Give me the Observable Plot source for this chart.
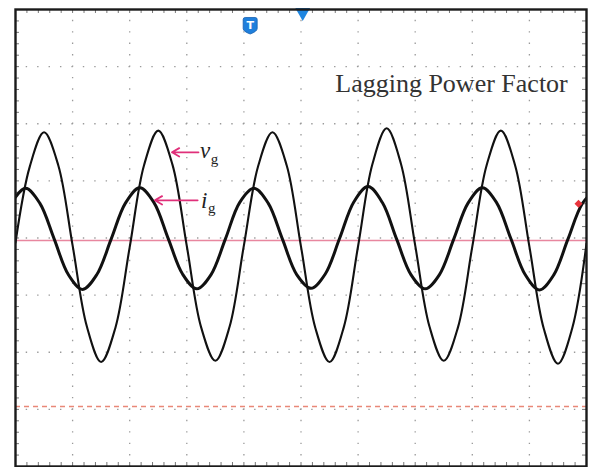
<!DOCTYPE html>
<html><head><meta charset="utf-8">
<script src="https://cdn.jsdelivr.net/npm/d3@7"></script>
<script src="https://cdn.jsdelivr.net/npm/@observablehq/plot@0.6"></script>
<style>html,body{margin:0;padding:0;background:#fff;} svg{display:block}</style>
</head><body><div id="chart"></div>
<script>
// Time in ms (10 ms/div), amplitudes in divisions
const voltTime = [0,2.5,5,7.5,10,12.5,15,17.5,20,22.5,25,27.5,30,32.5,35,37.5,40,42.5,45,47.5,50,52.5,55,57.5,60,62.5,65,67.5,70,72.5,75,77.5,80,82.5,85,87.5,90,92.5,95,97.5,100];
const voltValue = [-0.08,1.25,1.85,1.27,-0.13,-1.55,-2.17,-1.57,-0.16,1.27,1.88,1.28,-0.14,-1.56,-2.15,-1.55,-0.13,1.26,1.85,1.27,-0.15,-1.57,-2.17,-1.56,-0.14,1.29,1.92,1.30,-0.13,-1.55,-2.15,-1.56,-0.15,1.27,1.88,1.27,-0.15,-1.58,-2.20,-1.58,-0.10];
const currTime = [-0.75,1.75,4.25,6.75,9.25,11.75,14.25,16.75,19.25,21.75,24.25,26.75,29.25,31.75,34.25,36.75,39.25,41.75,44.25,46.75,49.25,51.75,54.25,56.75,59.25,61.75,64.25,66.75,69.25,71.75,74.25,76.75,79.25,81.75,84.25,86.75,89.25,91.75,94.25,96.75,99.25,101.75];
const currValue = [0.61,0.87,0.61,-0.01,-0.64,-0.90,-0.64,-0.02,0.61,0.88,0.62,-0.01,-0.63,-0.89,-0.64,-0.02,0.62,0.87,0.61,-0.02,-0.64,-0.88,-0.63,-0.01,0.63,0.90,0.62,-0.02,-0.64,-0.89,-0.64,-0.02,0.61,0.88,0.62,-0.01,-0.64,-0.91,-0.65,-0.02,0.60,0.87];
const refLevels = [-0.044];      // channel ground level (solid)
const trigLevels = [-2.95];      // dashed level
const titleText = ["Lagging Power Factor"];
const traceNames = ["v", "i"];
const traceSubs = ["g", "g"];

const volt = voltTime.map((t, i) => ({t, v: voltValue[i]}));
const curr = currTime.map((t, i) => ({t, v: currValue[i]}));

// grid geometry
const majorX = d3.range(10, 100, 10);
const majorY = d3.range(-3, 4, 1);
const minorX = d3.range(2, 100, 2);
const minorY = d3.range(-3.8, 4, 0.2);

// annotation placement
const arrows = [
  {x1: 32.05, y1: 1.50, x2: 27.4, y2: 1.50},
  {x1: 31.9, y1: 0.66, x2: 24.4, y2: 0.66}
];
const labels = [
  {x: 32.3, y: 1.40, sx: 34.2, sy: 1.29, name: traceNames[0], sub: traceSubs[0]},
  {x: 32.5, y: 0.53, sx: 33.7, sy: 0.44, name: traceNames[1], sub: traceSubs[1]}
];

const shield = {
  draw(ctx, size) {
    ctx.moveTo(-7, -6);
    ctx.quadraticCurveTo(-7, -8, -5, -8);
    ctx.lineTo(5, -8);
    ctx.quadraticCurveTo(7, -8, 7, -6);
    ctx.lineTo(7, 3);
    ctx.quadraticCurveTo(7, 6, 0, 8.5);
    ctx.quadraticCurveTo(-7, 6, -7, 3);
    ctx.closePath();
  }
};

const chart = Plot.plot({
  width: 590,
  height: 467,
  marginLeft: 15,
  marginRight: 4,
  marginTop: 9,
  marginBottom: 1,
  x: {domain: [0, 100], axis: null},
  y: {domain: [-4, 4], axis: null},
  style: {background: "#fff"},
  marks: [
    // dotted graticule
    Plot.ruleX(majorX, {stroke: "#9a9a9a", strokeWidth: 1.3, strokeDasharray: "1.4,10.03", strokeDashoffset: 0.7}),
    Plot.ruleY(majorY, {stroke: "#9a9a9a", strokeWidth: 1.3, strokeDasharray: "1.4,10.02", strokeDashoffset: 0.7}),
    // border minor ticks
    Plot.ruleX(minorX, {y1: 4, y2: 3.93, stroke: "#777", strokeWidth: 1}),
    Plot.ruleX(minorX, {y1: -4, y2: -3.93, stroke: "#777", strokeWidth: 1}),
    Plot.ruleY(minorY, {x1: 0, x2: 0.7, stroke: "#777", strokeWidth: 1}),
    Plot.ruleY(minorY, {x1: 100, x2: 99.3, stroke: "#777", strokeWidth: 1}),
    // reference levels
    Plot.ruleY(refLevels, {stroke: "#e8879f", strokeWidth: 1.6}),
    Plot.ruleY(trigLevels, {stroke: "#e98878", strokeWidth: 1.6, strokeDasharray: "5,4"}),
    // traces
    Plot.line(curr, {x: "t", y: "v", curve: "catmull-rom", stroke: "#111", strokeWidth: 3, clip: true}),
    Plot.line(volt, {x: "t", y: "v", curve: "catmull-rom", stroke: "#111", strokeWidth: 2.1, clip: true}),
    // markers
    Plot.dot([{x: 98.6, y: 0.60}], {x: "x", y: "y", symbol: "square", rotate: 45, r: 3.2, fill: "#e8343c"}),
    Plot.dot([{x: 50.3, y: 3.95}], {x: "x", y: "y", symbol: "triangle", rotate: 180, r: 5.5, fill: "#1f86e0"}),
    Plot.frame({stroke: "#1a1a1a", strokeWidth: 2.4}),
    Plot.dot([{x: 41.1, y: 3.72}], {x: "x", y: "y", symbol: shield, fill: "#1f7fdc", stroke: "#1560b0", strokeWidth: 0.8}),
    Plot.text(["T"], {x: 41.1, y: 3.72, fill: "#fff", fontWeight: "bold", fontSize: 11, fontFamily: "DejaVu Sans", dy: 0}),
    // annotations
    Plot.text(titleText, {x: 56.0, y: 2.55, text: d => d, textAnchor: "start", lineAnchor: "bottom", fontFamily: "Liberation Serif", fontSize: 26, fill: "#333"}),
    Plot.arrow(arrows, {x1: "x1", y1: "y1", x2: "x2", y2: "y2", stroke: "#e0307a", strokeWidth: 1.8, headLength: 7}),
    Plot.text(labels, {x: "x", y: "y", text: "name", textAnchor: "start", lineAnchor: "bottom", fontFamily: "Liberation Serif", fontStyle: "italic", fontSize: 23, fill: "#222"}),
    Plot.text(labels, {x: "sx", y: "sy", text: "sub", textAnchor: "start", lineAnchor: "bottom", fontFamily: "Liberation Serif", fontSize: 15, fill: "#222"})
  ]
});
document.getElementById("chart").appendChild(chart);
</script>
</body></html>
